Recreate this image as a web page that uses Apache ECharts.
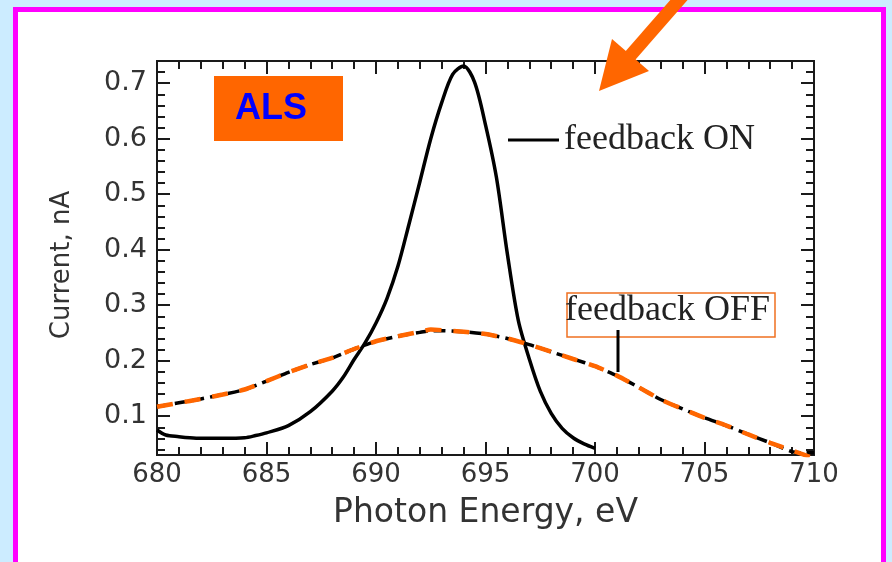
<!DOCTYPE html>
<html>
<head>
<meta charset="utf-8">
<script src="https://cdn.jsdelivr.net/npm/echarts@6/dist/echarts.min.js"></script>
<style>
html,body{margin:0;padding:0;background:#ccecff;}
#chart{width:892px;height:562px;}
</style>
</head>
<body>
<div id="chart"></div>
<script>
// ---- data ----
const xTicks = [680, 685, 690, 695, 700, 705, 710];
const yTicks = [0.1, 0.2, 0.3, 0.4, 0.5, 0.6, 0.7];
const yMinorTicks = [0.04, 0.06, 0.08, 0.12, 0.14, 0.16, 0.18, 0.22, 0.24, 0.26, 0.28,
  0.32, 0.34, 0.36, 0.38, 0.42, 0.44, 0.46, 0.48, 0.52, 0.54, 0.56, 0.58,
  0.62, 0.64, 0.66, 0.68, 0.72];

const onEnergy = [680, 680.4, 681, 681.5, 682, 683, 684, 684.5, 685, 686, 687, 688, 688.5,
  689, 689.5, 690, 690.5, 691, 691.5, 692, 692.5, 693, 693.5, 694, 694.5, 695, 695.5,
  696, 696.5, 697, 697.5, 698, 698.5, 699, 699.5, 700];
const onCurrent = [0.075, 0.066, 0.063, 0.061, 0.060, 0.060, 0.061, 0.065, 0.070, 0.083, 0.108, 0.145, 0.170,
  0.202, 0.232, 0.268, 0.312, 0.370, 0.445, 0.522, 0.600, 0.665, 0.716, 0.731, 0.702, 0.625, 0.530,
  0.392, 0.272, 0.203, 0.145, 0.105, 0.078, 0.061, 0.050, 0.042];

const offEnergy = [680, 681, 682, 683, 684, 685, 686, 687, 688, 688.5, 689, 690, 691, 692, 692.5,
  693, 694, 695, 696, 697, 698, 699, 700, 701, 702, 703, 704, 705, 706, 707, 708, 709, 709.5, 710];
const offBlackCurrent = [0.117, 0.124, 0.131, 0.139, 0.148, 0.163, 0.179, 0.193, 0.205, 0.213, 0.221, 0.235, 0.244, 0.251, 0.254,
  0.254, 0.252, 0.248, 0.240, 0.229, 0.216, 0.203, 0.190, 0.173, 0.152, 0.130, 0.113, 0.097, 0.083, 0.067, 0.052, 0.036, 0.034, 0.034];
const offOrangeCurrent = [0.117, 0.124, 0.131, 0.139, 0.148, 0.163, 0.179, 0.193, 0.205, 0.213, 0.221, 0.235, 0.244, 0.252, 0.256,
  0.255, 0.252, 0.248, 0.240, 0.229, 0.216, 0.203, 0.190, 0.173, 0.152, 0.130, 0.113, 0.097, 0.083, 0.067, 0.052, 0.038, 0.031, 0.024];

const pairs = (xs, ys) => xs.map((x, i) => [x, ys[i]]);

// ---- styles ----
const axisColor = '#1a1a1a';
const tickFont = { fontFamily: 'DejaVu Sans', fontSize: 26, color: '#333' };
const orange = '#ff6600';

function xAxisDef(pos, showLabel) {
  return {
    type: 'value', position: pos, min: 680, max: 710, interval: 5,
    axisLine: { show: true, lineStyle: { color: axisColor, width: 2 } },
    axisTick: { show: true, inside: true, length: 13, lineStyle: { color: axisColor, width: 2 } },
    minorTick: { show: true, splitNumber: 5, length: 8, lineStyle: { color: axisColor, width: 2 } },
    axisLabel: showLabel ? Object.assign({ show: true, customValues: xTicks, margin: 7 }, tickFont) : { show: false },
    splitLine: { show: false }, minorSplitLine: { show: false }
  };
}
function yAxisDef(pos, values, len, showLabel) {
  return {
    type: 'value', position: pos, min: 0.03, max: 0.74,
    axisLine: { show: true, lineStyle: { color: axisColor, width: 2 } },
    axisTick: { show: true, inside: true, length: len, customValues: values, lineStyle: { color: axisColor, width: 2 } },
    axisLabel: showLabel ? Object.assign({ show: true, customValues: yTicks, margin: 10 }, tickFont, { fontSize: 27 }) : { show: false },
    splitLine: { show: false }
  };
}

const xBottom = xAxisDef('bottom', true);
xBottom.name = 'Photon Energy, eV';
xBottom.nameLocation = 'middle';
xBottom.nameGap = 42;
xBottom.nameTextStyle = { fontFamily: 'DejaVu Sans', fontSize: 33, color: '#333' };

const chart = echarts.init(document.getElementById('chart'), null, { renderer: 'canvas' });
chart.setOption({
  backgroundColor: '#ccecff',
  animation: false,
  grid: { left: 157, top: 61, width: 657, height: 394 },
  xAxis: [xBottom, xAxisDef('top', false)],
  yAxis: [
    yAxisDef('left', yTicks, 13, true),
    yAxisDef('right', yTicks, 13, false),
    yAxisDef('left', yMinorTicks, 8, false),
    yAxisDef('right', yMinorTicks, 8, false)
  ],
  series: [
    {
      name: 'feedback ON', type: 'line', data: pairs(onEnergy, onCurrent),
      showSymbol: false, smooth: 0.3, z: 4,
      lineStyle: { color: '#000', width: 3.5 }
    },
    {
      name: 'feedback OFF', type: 'line', data: pairs(offEnergy, offBlackCurrent),
      showSymbol: false, smooth: 0.2, z: 3,
      lineStyle: { color: '#000', width: 3.5, type: [12, 6] }
    },
    {
      name: 'feedback OFF (orange)', type: 'line', data: pairs(offEnergy, offOrangeCurrent),
      showSymbol: false, smooth: 0.2, z: 5,
      lineStyle: { color: orange, width: 4.5, type: [16, 12] }
    }
  ],
  graphic: [
    { type: 'rect', z: -10, shape: { x: 15.5, y: 9.5, width: 868, height: 600 },
      style: { fill: '#ffffff', stroke: '#ff00ff', lineWidth: 5 } },
    { type: 'text', z: 50, x: 62, y: 265, rotation: Math.PI / 2,
      style: { text: 'Current, nA', fill: '#333', fontFamily: 'DejaVu Sans', fontSize: 26,
        align: 'center', verticalAlign: 'middle' } },
    { type: 'rect', z: 50, shape: { x: 214, y: 76, width: 129, height: 65 }, style: { fill: orange } },
    { type: 'text', z: 51, x: 271, y: 109,
      style: { text: 'ALS', fill: '#0000ff', fontFamily: 'Liberation Sans', fontWeight: 'bold', fontSize: 36,
        align: 'center', verticalAlign: 'middle' } },
    { type: 'line', z: 50, shape: { x1: 508, y1: 140, x2: 559, y2: 140 }, style: { stroke: '#000', lineWidth: 3 } },
    { type: 'text', z: 50, x: 564, y: 140,
      style: { text: 'feedback ON', fill: '#222', fontFamily: 'Liberation Serif', fontSize: 36,
        align: 'left', verticalAlign: 'middle' } },
    { type: 'rect', z: 50, shape: { x: 567, y: 293, width: 208, height: 44 },
      style: { fill: 'none', stroke: '#f07020', lineWidth: 1.5 } },
    { type: 'text', z: 50, x: 565, y: 311,
      style: { text: 'feedback OFF', fill: '#222', fontFamily: 'Liberation Serif', fontSize: 36,
        align: 'left', verticalAlign: 'middle' } },
    { type: 'line', z: 50, shape: { x1: 618, y1: 330, x2: 618, y2: 372 }, style: { stroke: '#000', lineWidth: 3 } },
    { type: 'line', z: 60, shape: { x1: 630, y1: 56, x2: 706, y2: -31 }, style: { stroke: orange, lineWidth: 13 } },
    { type: 'polygon', z: 60, shape: { points: [[599, 91], [612, 39], [649, 71]] }, style: { fill: orange } }
  ]
});
</script>
</body>
</html>
